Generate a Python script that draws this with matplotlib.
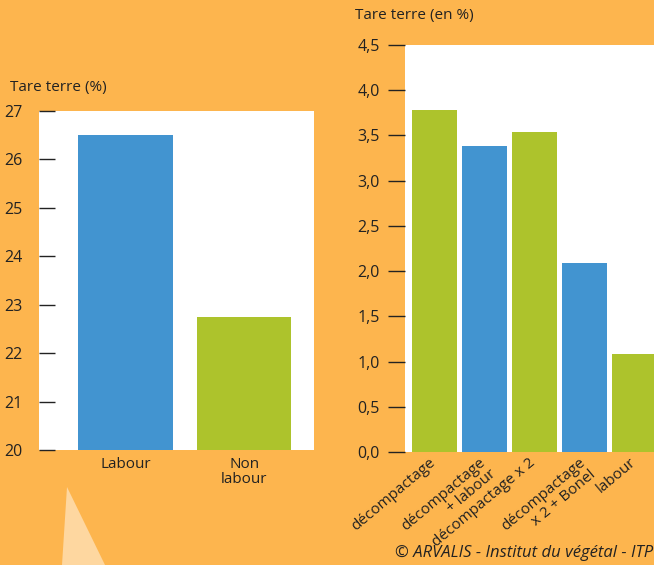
import matplotlib
matplotlib.use("Agg")
import matplotlib.pyplot as plt
from matplotlib.patches import Polygon

plt.rcParams['font.family'] = ['Open Sans', 'DejaVu Sans']

# left panel
left_cats = ['Labour', 'Non\nlabour']
left_vals = [26.5, 22.75]
left_colors = ['#4294d0', '#adc32c']

# right panel
right_cats = ['décompactage', 'décompactage\n+ labour', 'décompactage x 2',
              'décompactage\nx 2 + Bonel', 'labour']
right_vals = [3.78, 3.38, 3.54, 2.09, 1.08]
right_colors = ['#adc32c', '#4294d0', '#adc32c', '#4294d0', '#adc32c']

bg = '#fdb54e'
txt = '#222222'
W, H = 654, 565

fig = plt.figure(figsize=(W / 100, H / 100), dpi=100, facecolor=bg)

# decorative light triangle at the bottom left
fig.patches.append(Polygon([(67 / W, 1 - 487 / H), (62 / W, 0), (105 / W, 0)],
                           closed=True, transform=fig.transFigure,
                           facecolor='#fed7a0', edgecolor='none'))

# ---- left chart
ax1 = fig.add_axes([39 / W, 1 - 450 / H, (314 - 39) / W, (450 - 111) / H])
ax1.bar(range(len(left_vals)), left_vals, width=0.8, color=left_colors)
ax1.set_ylim(20, 27)
ax1.set_xlim(-0.73, 1.59)
ax1.set_yticks(range(20, 28))
ax1.set_xticks(range(len(left_cats)))
ax1.set_xticklabels(left_cats, fontsize=11, color=txt, linespacing=1.05)
ax1.tick_params(axis='x', length=0, pad=5)
ax1.tick_params(axis='y', direction='in', length=11.5, width=1, color=txt,
                labelsize=11.5, labelcolor=txt, pad=12)
for s in ax1.spines.values():
    s.set_visible(False)
fig.text(10 / W, 1 - 88 / H, 'Tare terre (%)', fontsize=11, color=txt,
         ha='left', va='center')

# ---- right chart
ax2 = fig.add_axes([405 / W, 1 - 452 / H, (654 - 405) / W, (452 - 45) / H])
ax2.bar(range(len(right_vals)), right_vals, width=0.9, color=right_colors)
ax2.set_ylim(0, 4.5)
ax2.set_xlim(-0.59, 4.39)
yt = [i * 0.5 for i in range(10)]
ax2.set_yticks(yt)
ax2.set_yticklabels([f'{v:.1f}'.replace('.', ',') for v in yt])
ax2.set_xticks([])
# rotated category labels, nudged a bit left of the bar centres
for i, cat in enumerate(right_cats):
    ax2.annotate(cat, xy=(i, 0), xycoords=('data', 'axes fraction'),
                 xytext=(-4, -2), textcoords='offset points',
                 rotation=40, ha='right', va='top', rotation_mode='anchor',
                 fontsize=11, color=txt, linespacing=1.05, multialignment='right',
                 annotation_clip=False)
ax2.tick_params(axis='y', direction='out', length=12, width=1, color=txt,
                labelsize=11.5, labelcolor=txt, pad=6)
for s in ax2.spines.values():
    s.set_visible(False)
fig.text(355 / W, 1 - 15 / H, 'Tare terre (en %)', fontsize=11, color=txt,
         ha='left', va='center')

# credit line, cut at the right edge as in the original
fig.text(395 / W, 1 - 553 / H, '© ARVALIS - Institut du végétal - ITPT',
         fontsize=12, style='italic', color=txt, ha='left', va='center')

fig.savefig('out.png', dpi=100, facecolor=bg)
